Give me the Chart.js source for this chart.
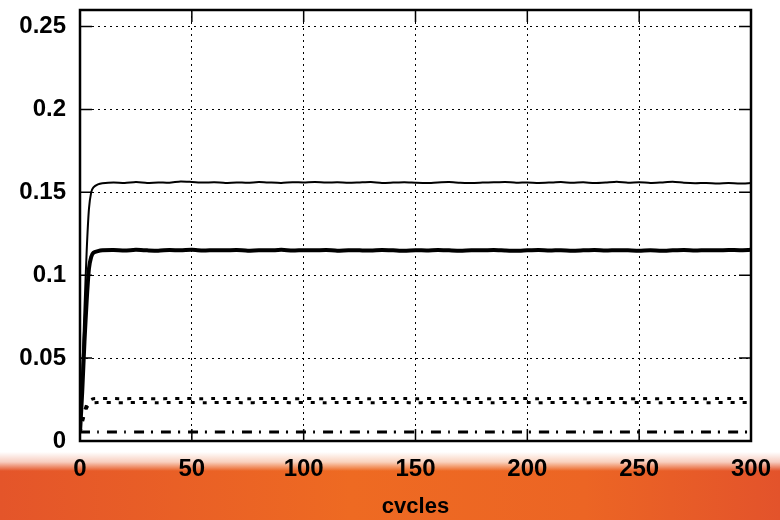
<!DOCTYPE html>
<html>
<head>
<meta charset="utf-8">
<script src="https://cdn.jsdelivr.net/npm/chart.js@4/dist/chart.umd.min.js"></script>
<style>
  html, body { margin: 0; padding: 0; }
  body { width: 780px; height: 520px; position: relative; overflow: hidden; background: #fff; }
  #band {
    position: absolute; left: 0; top: 452px; width: 780px; height: 68px;
    background:
      linear-gradient(to bottom, rgba(255,255,255,1) 0px, rgba(255,255,255,0.7) 10px, rgba(255,255,255,0) 19px),
      linear-gradient(to right, #e4552a 0%, #ee6a22 45%, #ec6524 75%, #e3532b 100%);
  }
  #wrap { position: absolute; left: 0; top: 0; width: 780px; height: 520px; }
</style>
</head>
<body>
<div id="band"></div>
<div id="wrap"><canvas id="myChart" width="780" height="520"></canvas></div>
<script>
const cycles = [0, 1, 2, 3, 4, 5, 6, 8, 10,
  15, 20, 25, 30, 35, 40, 45, 50, 55, 60, 65, 70, 75, 80, 85, 90, 95, 100,
  105, 110, 115, 120, 125, 130, 135, 140, 145, 150, 155, 160, 165, 170, 175, 180, 185, 190, 195, 200,
  205, 210, 215, 220, 225, 230, 235, 240, 245, 250, 255, 260, 265, 270, 275, 280, 285, 290, 295, 300]

const upperThin = [0.005, 0.04, 0.08, 0.115, 0.14, 0.150, 0.153, 0.1548, 0.1555,
  0.1560, 0.1556, 0.1562, 0.1557, 0.1560, 0.1558, 0.1566, 0.1563, 0.1559, 0.1561, 0.1557, 0.1560, 0.1558, 0.1562, 0.1559, 0.1557, 0.1561, 0.1560,
  0.1563, 0.1559, 0.1561, 0.1558, 0.1560, 0.1562, 0.1557, 0.1559, 0.1561, 0.1558, 0.1556, 0.1560, 0.1562, 0.1558, 0.1557, 0.1559, 0.1561, 0.1563, 0.1558, 0.1560,
  0.1557, 0.1559, 0.1562, 0.1558, 0.1561, 0.1556, 0.1559, 0.1564, 0.1558, 0.1561, 0.1557, 0.1560, 0.1564, 0.1558, 0.1555, 0.1557, 0.1554, 0.1556, 0.1553, 0.1556]

const upperThick = [0.005, 0.03, 0.06, 0.085, 0.104, 0.111, 0.1135, 0.1145, 0.1150,
  0.1152, 0.1149, 0.1153, 0.1150, 0.1148, 0.1152, 0.1150, 0.1154, 0.1149, 0.1151, 0.1150, 0.1152, 0.1148, 0.1151, 0.1150, 0.1153, 0.1149, 0.1151,
  0.1150, 0.1152, 0.1148, 0.1151, 0.1150, 0.1149, 0.1152, 0.1150, 0.1147, 0.1151, 0.1149, 0.1152, 0.1150, 0.1148, 0.1151, 0.1150, 0.1152, 0.1149, 0.1147, 0.1150,
  0.1152, 0.1149, 0.1151, 0.1148, 0.1150, 0.1152, 0.1149, 0.1151, 0.1150, 0.1148, 0.1151, 0.1147, 0.1150, 0.1152, 0.1149, 0.1151, 0.1150, 0.1152, 0.1151, 0.1153]

const dottedHigh = [0.005, 0.012, 0.018, 0.022, 0.024, 0.025, 0.0255, 0.0256, 0.0256,
  0.0256, 0.0255, 0.0257, 0.0256, 0.0255, 0.0256, 0.0257, 0.0256, 0.0255, 0.0256, 0.0257, 0.0256, 0.0255, 0.0256, 0.0256, 0.0257, 0.0255, 0.0256,
  0.0256, 0.0255, 0.0257, 0.0256, 0.0256, 0.0255, 0.0256, 0.0257, 0.0256, 0.0255, 0.0256, 0.0256, 0.0257, 0.0255, 0.0256, 0.0256, 0.0255, 0.0257, 0.0256, 0.0256,
  0.0255, 0.0256, 0.0257, 0.0256, 0.0255, 0.0256, 0.0256, 0.0257, 0.0255, 0.0256, 0.0256, 0.0255, 0.0257, 0.0256, 0.0256, 0.0255, 0.0256, 0.0257, 0.0256, 0.0256]

const dottedLow = [0.005, 0.011, 0.016, 0.020, 0.022, 0.0228, 0.0231, 0.0232, 0.0232,
  0.0232, 0.0231, 0.0233, 0.0232, 0.0231, 0.0232, 0.0233, 0.0232, 0.0231, 0.0232, 0.0233, 0.0232, 0.0231, 0.0232, 0.0232, 0.0233, 0.0231, 0.0232,
  0.0232, 0.0231, 0.0233, 0.0232, 0.0232, 0.0231, 0.0232, 0.0233, 0.0232, 0.0231, 0.0232, 0.0232, 0.0233, 0.0231, 0.0232, 0.0232, 0.0231, 0.0233, 0.0232, 0.0232,
  0.0231, 0.0232, 0.0233, 0.0232, 0.0231, 0.0232, 0.0232, 0.0233, 0.0231, 0.0232, 0.0232, 0.0231, 0.0233, 0.0232, 0.0232, 0.0231, 0.0232, 0.0233, 0.0232, 0.0232]

const dashDot = [0.0055, 0.0055, 0.0055, 0.0055, 0.0055, 0.0055, 0.0055, 0.0055, 0.0055,
  0.0055, 0.0055, 0.0055, 0.0055, 0.0055, 0.0055, 0.0055, 0.0055, 0.0055, 0.0055, 0.0055, 0.0055, 0.0055, 0.0055, 0.0055, 0.0055, 0.0055, 0.0055,
  0.0055, 0.0055, 0.0055, 0.0055, 0.0055, 0.0055, 0.0055, 0.0055, 0.0055, 0.0055, 0.0055, 0.0055, 0.0055, 0.0055, 0.0055, 0.0055, 0.0055, 0.0055, 0.0055, 0.0055,
  0.0055, 0.0055, 0.0055, 0.0055, 0.0055, 0.0055, 0.0055, 0.0055, 0.0055, 0.0055, 0.0055, 0.0055, 0.0055, 0.0055, 0.0055, 0.0055, 0.0055, 0.0055, 0.0055, 0.0055]

const xTicks = [0, 50, 100, 150, 200, 250, 300]
const yTicks = [0, 0.05, 0.1, 0.15, 0.2, 0.25]
const xTitle = 'cvcles'

function toPoints(values) {
  return cycles.map((c, i) => ({ x: c, y: values[i] }))
}

// frame + inward tick marks, like the original plot
const framePlugin = {
  id: 'frame',
  afterDraw(chart) {
    const { ctx, chartArea: a, scales } = chart
    ctx.save()
    ctx.strokeStyle = '#000'
    ctx.lineWidth = 1.5
    ctx.beginPath()
    yTicks.forEach((v) => {
      const py = scales.y.getPixelForValue(v)
      ctx.moveTo(a.left, py); ctx.lineTo(a.left + 12, py)
      ctx.moveTo(a.right, py); ctx.lineTo(a.right - 12, py)
    })
    xTicks.forEach((v) => {
      const px = scales.x.getPixelForValue(v)
      ctx.moveTo(px, a.bottom); ctx.lineTo(px, a.bottom - 12)
      ctx.moveTo(px, a.top); ctx.lineTo(px, a.top + 12)
    })
    ctx.stroke()
    ctx.lineWidth = 2.5
    ctx.strokeRect(a.left, a.top, a.right - a.left, a.bottom - a.top)
    ctx.restore()
  },
}

const lineStyle = (values, width, dash) => ({
  data: toPoints(values),
  borderColor: '#000',
  borderWidth: width,
  borderDash: dash,
  pointRadius: 0,
  tension: 0.2,
  fill: false,
})

const tickFont = { family: 'Liberation Sans', size: 24, weight: 'bold' }

const ctx = document.getElementById('myChart').getContext('2d')
const myChart = new Chart(ctx, {
  type: 'line',
  data: {
    datasets: [
      lineStyle(upperThin, 2, []),
      lineStyle(upperThick, 4, []),
      lineStyle(dottedHigh, 3, [4, 8]),
      lineStyle(dottedLow, 3, [4, 8]),
      lineStyle(dashDot, 3, [10, 7, 2, 8]),
    ],
  },
  options: {
    responsive: false,
    animation: false,
    layout: { padding: { top: 10, right: 29, left: 0, bottom: 0 } },
    plugins: { legend: { display: false }, tooltip: { enabled: false } },
    scales: {
      x: {
        type: 'linear',
        min: 0,
        max: 300,
        afterBuildTicks: (s) => { s.ticks = xTicks.map((v) => ({ value: v })) },
        afterFit: (s) => { s.height = 79; s.paddingLeft = 0; s.paddingRight = 0 },
        grid: { color: '#000', lineWidth: 1, drawTicks: false },
        border: { display: false, dash: [2, 4] },
        ticks: { color: '#000', padding: 14, font: tickFont },
        title: {
          display: true,
          text: xTitle,
          color: '#000',
          padding: { top: 2, bottom: 0 },
          font: { family: 'Liberation Sans', size: 22, weight: 'bold' },
        },
      },
      y: {
        min: 0,
        max: 0.26,
        afterBuildTicks: (s) => { s.ticks = yTicks.map((v) => ({ value: v })) },
        afterFit: (s) => { s.width = 80; s.paddingTop = 0; s.paddingBottom = 0 },
        grid: { color: '#000', lineWidth: 1, drawTicks: false },
        border: { display: false, dash: [2, 4] },
        ticks: {
          color: '#000',
          padding: 14,
          font: tickFont,
          callback: (v) => String(v),
        },
      },
    },
  },
  plugins: [framePlugin],
})
</script>
</body>
</html>
